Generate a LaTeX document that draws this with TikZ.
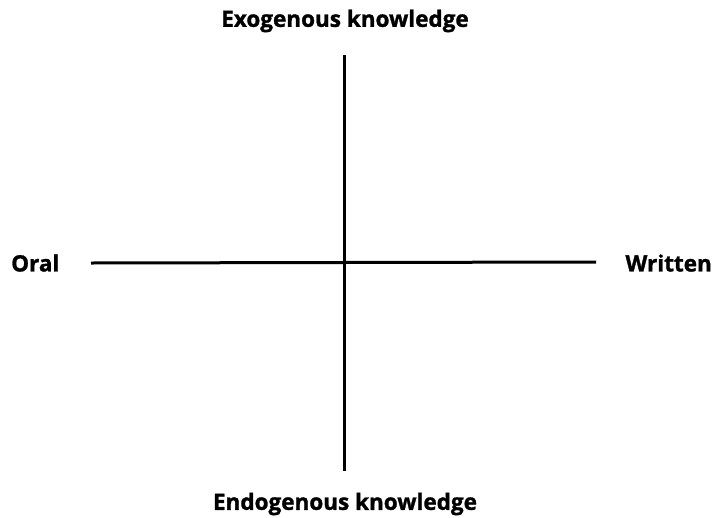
\documentclass[tikz,border=0pt]{standalone}
\usepackage{fontspec}
\setmainfont{Open Sans}[BoldFeatures={FakeBold=1.3}]
\usetikzlibrary{positioning}
\begin{document}
\begin{tikzpicture}[x=1pt,y=-1pt]
        \tikzset{axislabel/.style={font=\fontsize{22.5}{26}\selectfont\bfseries, inner sep=0pt},
            axisline/.style={line width=3pt}}
        \useasboundingbox (0,0) rectangle (712,517);
        % Axis ends
        \coordinate (top) at (344,55);
        \coordinate (bottom) at (344,471);
        \coordinate (left) at (91,263);
        \coordinate (right) at (596,262);
        % Axes
        \draw[axisline] (top) -- (bottom);
        \draw[axisline] (left) -- (right);
        % Labels
        \node[axislabel] (exo) at (345,21) {Exogenous knowledge};
        \node[axislabel] (endo) at (345,504) {Endogenous knowledge};
        \node[axislabel, anchor=west] (oral) at (11,263) {Oral};
        \node[axislabel, anchor=east] (written) at (712,263) {Written};
      \end{tikzpicture}
\end{document}
